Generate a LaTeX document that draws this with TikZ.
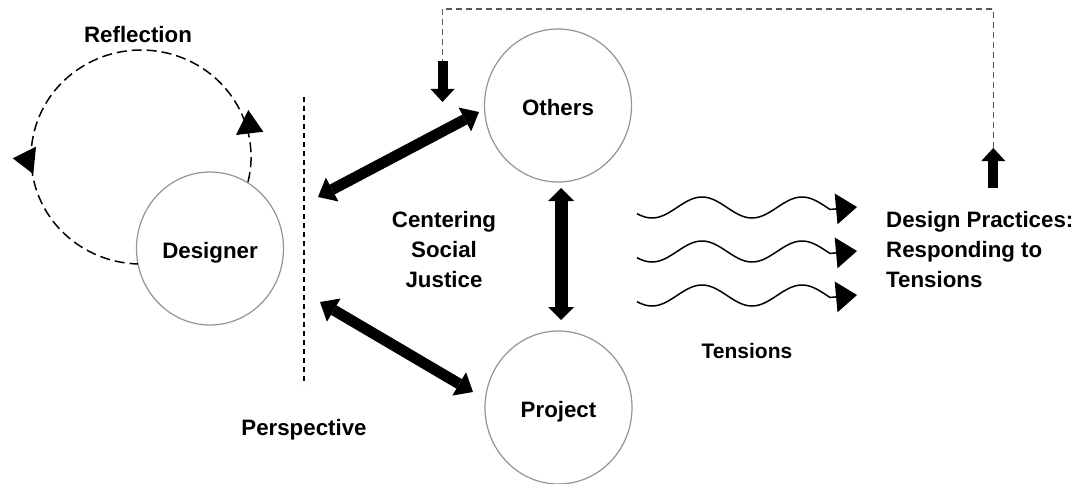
\documentclass[tikz,border=0pt]{standalone}
\usepackage{fontspec}
\setmainfont{Liberation Sans}
\usetikzlibrary{arrows.meta,shapes.geometric}

\tikzset{
  lbl/.style={font=\bfseries\fontsize{22.3}{30}\selectfont, inner sep=0pt},
  actor/.style={ellipse, draw=black!42, line width=1.2pt, minimum width=147pt,
    minimum height=153pt, inner sep=0pt, text height=20pt, text depth=0pt,
    font=\bfseries\fontsize{22.3}{30}\selectfont},
  twoway/.style={line width=11pt, {Triangle[length=16pt,width=27pt,line width=0pt]}-{Triangle[length=16pt,width=27pt,line width=0pt]}},
  blockarrow/.style={line width=10pt, -{Triangle[length=13pt,width=24pt,line width=0pt]}},
  wave/.style={line width=1.5pt, -{Triangle[length=21pt,width=31pt,line width=0pt]}},
  loopline/.style={line width=1.5pt, dash pattern=on 10pt off 5pt},
  divider/.style={line width=1.4pt, dash pattern=on 5pt off 4pt},
  feedback/.style={line width=1.5pt, draw=black!65, dash pattern=on 6pt off 4pt},
}

\begin{document}
\begin{tikzpicture}[x=1pt,y=-1pt]
\useasboundingbox (0,0) rectangle (1083,484);

% the three actors
\node[actor] (designer) at (210,248.5) {Designer};
\node[actor] (others)   at (558,105.5) {Others};
\node[actor] (project)  at (558.5,407.5) {Project};

% reflection loop around the designer
\coordinate (loopstart) at (248,182);
\draw[loopline] (loopstart) arc[start angle=13.5, end angle=-268.4, x radius=110, y radius=107];
\fill (248.3,110) -- (236,135) -- (263.3,131.7) -- cycle;
\fill (12.7,158.3) -- (36,146.7) -- (33.3,174) -- cycle;
\node[lbl, anchor=base] (reflection) at (138,43) {Reflection};

% perspective divider
\coordinate (divtop) at (304,97);
\coordinate (divbot) at (304,385);
\draw[divider] (divtop) -- (divbot);
\node[lbl, anchor=base] (perspective) at (304,435.7) {Perspective};

% two-way relations
\coordinate (dA) at (318,197);
\coordinate (dB) at (320,302);
\draw[twoway] (dA) -- (479,112) coordinate (oA);
\draw[twoway] (dB) -- (473,392) coordinate (pA);
\draw[line width=13pt, {Triangle[length=13pt,width=26pt,line width=0pt]}-{Triangle[length=13pt,width=26pt,line width=0pt]}]
  (561,188) coordinate (oB) -- (561,320) coordinate (pB);

\node[lbl, align=center] (centre) at (444,250) {Centering\\Social\\Justice};

% tensions
\foreach \m/\n in {207/1,251/2,295/3}{
  \draw[wave] plot[domain=637:830, samples=80, smooth] (\x,{\m+0.5-10.5*cos(3.6*(\x-702))})
    -- (857,\m) coordinate (w\n);
}
\node[lbl, font=\bfseries\fontsize{21}{28}\selectfont, anchor=base] (tensions) at (747,358) {Tensions};

\node[lbl, align=left, anchor=west] (practices) at (886,250) {Design Practices:\\Responding to\\Tensions};

% feedback from design practices to others
\coordinate (upfoot) at (993.3,188);
\coordinate (uptip) at (993.3,148);
\coordinate (downtail) at (442.5,61);
\coordinate (downtip) at (442.5,102);
\draw[blockarrow] (upfoot) -- (uptip);
\draw[feedback] (uptip) -- (993.3,9) -- (442.5,9) -- (downtail);
\draw[blockarrow] (downtail) -- (downtip);
\end{tikzpicture}
\end{document}
